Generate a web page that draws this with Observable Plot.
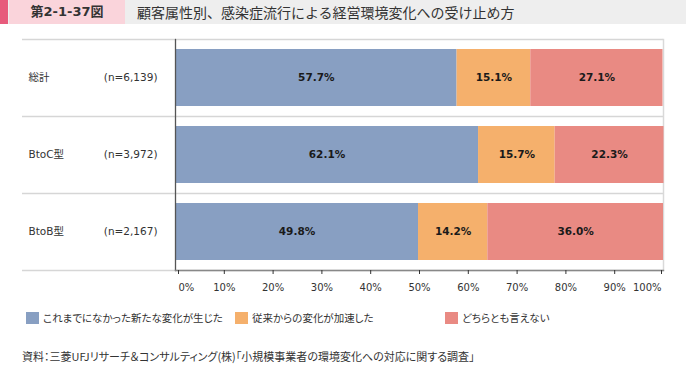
<!DOCTYPE html>
<html>
<head>
<meta charset="utf-8">
<script src="https://cdn.jsdelivr.net/npm/d3@7"></script>
<script src="https://cdn.jsdelivr.net/npm/@observablehq/plot@0.6"></script>
<style>
  html, body { margin: 0; padding: 0; background: #fff; }
  body { position: relative; width: 686px; height: 369px; overflow: hidden;
         font-family: "Noto Sans CJK JP", "DejaVu Sans", sans-serif; }
  #header { position: absolute; left: 0; top: 0; width: 686px; height: 24px; background: #eeeeee; }
  #stripe { position: absolute; left: 0; top: 0; width: 8px; height: 24px; background: #e75b7c; }
  #figno { position: absolute; left: 9px; top: 0; width: 116px; height: 24px; background: #fad4db;
           font: bold 13px "DejaVu Sans", "Noto Sans CJK JP", sans-serif; color: #333;
           line-height: 24px; text-align: center; }
  #title { position: absolute; left: 137px; top: 0; height: 24px; line-height: 24px;
           font-size: 14px; color: #333; white-space: nowrap; }
  #chart { position: absolute; left: 0; top: 24px; }
  .sw { position: absolute; top: 312px; width: 13px; height: 12px; }
  .lt { position: absolute; top: 309px; line-height: 18px; font-size: 10.5px; color: #333;
        white-space: nowrap; font-feature-settings: "palt"; }
  #caption { position: absolute; left: 22px; top: 347px; line-height: 18px; font-size: 11px; color: #333;
             white-space: nowrap; font-feature-settings: "palt"; }
</style>
</head>
<body>
<div id="header"><div id="stripe"></div><div id="figno">第2-1-37図</div>
<div id="title">顧客属性別、感染症流行による経営環境変化への受け止め方</div></div>
<div id="chart"></div>
<div id="legend"></div>
<div id="caption">資料：三菱UFJリサーチ＆コンサルティング(株)「小規模事業者の環境変化への対応に関する調査」</div>
<script>
const categories = ["総計", "BtoC型", "BtoB型"];
const sampleLabels = ["(n=6,139)", "(n=3,972)", "(n=2,167)"];
const seriesNames = ["これまでになかった新たな変化が生じた", "従来からの変化が加速した", "どちらとも言えない"];
const seriesColors = ["#889fc2", "#f5b06c", "#e98a83"];
const newChange = [57.7, 62.1, 49.8];
const accelerated = [15.1, 15.7, 14.2];
const neither = [27.1, 22.3, 36.0];
const xTicks = [0, 10, 20, 30, 40, 50, 60, 70, 80, 90, 100];

const seriesValues = [newChange, accelerated, neither];
const data = [];
categories.forEach((c, i) => {
  seriesNames.forEach((s, j) => data.push({cat: c, series: s, value: seriesValues[j][i]}));
});
const rows = categories.map((c, i) => ({cat: c, n: sampleLabels[i]}));

const W = 686, H = 276, mt = 15, mb = 30, ml = 175, mr = 23;
const step = (H - mt - mb) / categories.length;
const fontFam = '"DejaVu Sans", "Noto Sans CJK JP", sans-serif';
const axisOpts = {tickSize: 4, tickPadding: 9, tickFormat: d => d + "%", stroke: "#333", fill: "#333", fontSize: 10, label: null};

const chart = Plot.plot({
  width: W, height: H,
  marginTop: mt, marginBottom: mb, marginLeft: ml, marginRight: mr,
  style: {fontFamily: fontFam, fontSize: "10px", color: "#333", background: "transparent"},
  x: {domain: [0, 100], axis: null, label: null},
  y: {domain: categories, paddingInner: 0.26, paddingOuter: 0.13, axis: null, label: null},
  color: {domain: seriesNames, range: seriesColors},
  marks: [
    Plot.ruleY(categories, {y: d => d, dy: -step / 2, stroke: "#d6d6d6", strokeWidth: 1.5, insetLeft: -153}),
    Plot.ruleY([categories[categories.length - 1]], {y: d => d, dy: step / 2, stroke: "#d6d6d6", strokeWidth: 1.5, insetLeft: -153}),
    Plot.frame({anchor: "right", stroke: "#d9d9d9", strokeWidth: 1.5}),
    Plot.barX(data, Plot.stackX({x: "value", y: "cat", z: "series", fill: "series", order: null})),
    Plot.text(data, Plot.stackX({x: "value", y: "cat", z: "series", order: null,
      text: d => d.value.toFixed(1) + "%", fontWeight: "bold", fontSize: 10.5, fill: "#1a1a1a",
      fontFamily: '"DejaVu Sans", sans-serif'})),
    Plot.frame({anchor: "left", stroke: "#555", strokeWidth: 1.3}),
    Plot.frame({anchor: "bottom", stroke: "#888", strokeWidth: 1.3}),
    Plot.axisX(xTicks.slice(1, -1), axisOpts),
    Plot.axisX([xTicks[0]], {...axisOpts, textAnchor: "start", dx: 3}),
    Plot.axisX([xTicks[xTicks.length - 1]], {...axisOpts, textAnchor: "end", dx: -2}),
    Plot.text(rows, {y: "cat", text: "cat", frameAnchor: "left", dx: -147, textAnchor: "start", fontSize: 10.5, fill: "#333"}),
    Plot.text(rows, {y: "cat", text: "n", frameAnchor: "left", dx: -18, textAnchor: "end", fontSize: 10.5, fill: "#333"})
  ]
});
document.getElementById("chart").appendChild(chart);

const legendX = [26, 235, 445];
const legend = document.getElementById("legend");
seriesNames.forEach((s, i) => {
  const sw = document.createElement("div");
  sw.className = "sw"; sw.style.left = legendX[i] + "px"; sw.style.background = seriesColors[i];
  const t = document.createElement("div");
  t.className = "lt"; t.style.left = (legendX[i] + 17) + "px"; t.textContent = s;
  legend.appendChild(sw); legend.appendChild(t);
});
</script>
</body>
</html>
